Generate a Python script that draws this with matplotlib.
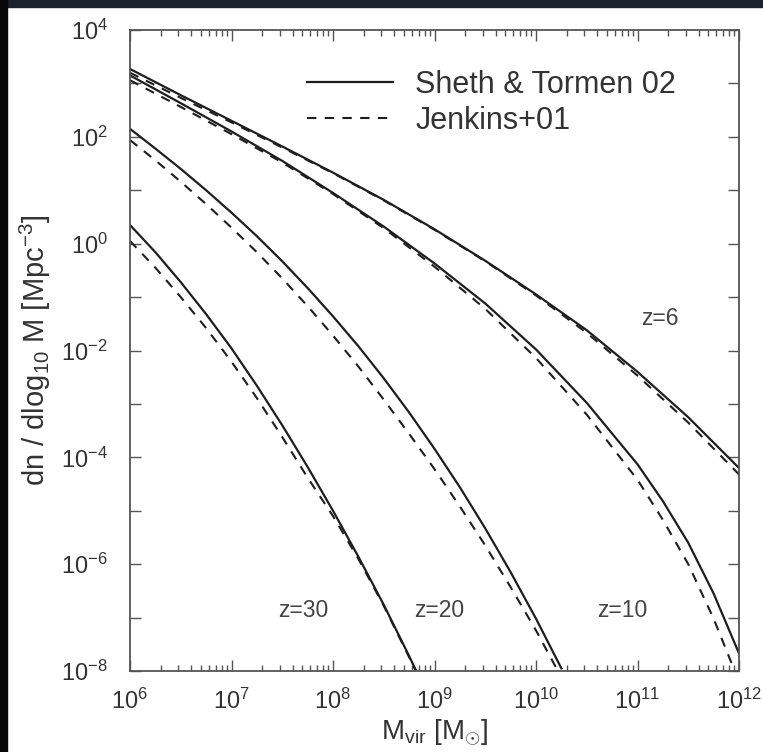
import matplotlib
matplotlib.use("Agg")
import matplotlib.pyplot as plt
from matplotlib.patches import Rectangle
from matplotlib.ticker import LogLocator, FixedLocator, FuncFormatter, NullFormatter, NullLocator
import numpy as np

plt.rcParams['font.family'] = ['Liberation Sans', 'DejaVu Sans']
plt.rcParams['mathtext.fontset'] = 'custom'
plt.rcParams['mathtext.rm'] = 'Liberation Sans'
plt.rcParams['mathtext.it'] = 'Liberation Sans:italic'
plt.rcParams['mathtext.bf'] = 'Liberation Sans:bold'

# log10 halo mass and log10 dn/dlog10M for each redshift
logm_z6 = [6.0, 6.5, 7.0, 7.5, 8.0, 8.5, 9.0, 9.5, 10.0, 10.5, 11.0, 11.5, 12.0]
st_z6 = [3.27, 2.78, 2.30, 1.82, 1.33, 0.82, 0.27, -0.32, -0.95, -1.62, -2.40, -3.25, -4.20]
jk_z6 = [3.20, 2.73, 2.27, 1.80, 1.32, 0.81, 0.26, -0.33, -0.97, -1.67, -2.47, -3.35, -4.32]

logm_z10 = [6.0, 6.5, 7.0, 7.5, 8.0, 8.5, 9.0, 9.5, 10.0, 10.5, 11.0, 11.25, 11.5, 11.75, 12.0]
st_z10 = [3.15, 2.63, 2.10, 1.55, 0.95, 0.32, -0.37, -1.12, -1.98, -2.98, -4.13, -4.82, -5.60, -6.55, -7.67]
jk_z10 = [3.06, 2.56, 2.05, 1.52, 0.93, 0.29, -0.43, -1.22, -2.14, -3.20, -4.42, -5.17, -6.00, -7.02, -8.20]

logm_z20 = [6.0, 6.25, 6.5, 6.75, 7.0, 7.25, 7.5, 7.75, 8.0, 8.25, 8.5, 8.75, 9.0, 9.25, 9.5, 9.75, 10.0, 10.25]
st_z20 = [2.15, 1.78, 1.40, 1.00, 0.58, 0.14, -0.33, -0.83, -1.36, -1.92, -2.52, -3.16, -3.84, -4.56, -5.33, -6.15, -7.02, -7.95]
jk_z20 = [1.94, 1.56, 1.16, 0.74, 0.30, -0.16, -0.65, -1.17, -1.72, -2.30, -2.92, -3.56, -4.22, -4.92, -5.65, -6.43, -7.24, -8.12]

logm_z30 = [6.0, 6.25, 6.5, 6.75, 7.0, 7.25, 7.5, 7.75, 8.0, 8.25, 8.5, 8.75, 9.0]
st_z30 = [0.35, -0.16, -0.72, -1.32, -1.96, -2.66, -3.40, -4.18, -5.00, -5.86, -6.76, -7.72, -8.72]
jk_z30 = [0.05, -0.45, -1.00, -1.58, -2.21, -2.89, -3.62, -4.38, -5.10, -5.90, -6.78, -7.74, -8.72]

series = [
    (logm_z6, st_z6, jk_z6),
    (logm_z10, st_z10, jk_z10),
    (logm_z20, st_z20, jk_z20),
    (logm_z30, st_z30, jk_z30),
]

z_labels = ['z=6', 'z=10', 'z=20', 'z=30']
z_label_pos = [(10**11.22, 10**-1.40), (10**10.85, 10**-6.86), (10**9.05, 10**-6.86), (10**7.71, 10**-6.86)]

x_decades = list(range(6, 13))
y_decades = list(range(-8, 5))

line_color = '#1e1e1e'
text_color = '#333333'

fig = plt.figure(figsize=(7.63, 7.52), dpi=100)
fig.patch.set_facecolor('white')
ax = fig.add_axes([130 / 763, 81 / 752, 609 / 763, 641 / 752])

for logm, st, jk in series:
    m = 10 ** np.array(logm)
    ax.plot(m, 10 ** np.array(st), color=line_color, lw=1.6)
    ax.plot(m, 10 ** np.array(jk), color=line_color, lw=1.5, dashes=(4.5, 4))

# legend handles
ax.plot([], [], color=line_color, lw=1.6, label='Sheth & Tormen 02')
ax.plot([], [], color=line_color, lw=1.5, dashes=(4.5, 4), label='Jenkins+01')

ax.set_xscale('log')
ax.set_yscale('log')
ax.set_xlim(1e6, 1e12)
ax.set_ylim(1e-8, 1e4)

for txt, (x, y) in zip(z_labels, z_label_pos):
    ax.text(x, y, txt, fontsize=16.5, color='#444444', ha='center', va='center')

leg = ax.legend(loc='upper left', bbox_to_anchor=((307 - 130) / 609, (671 - 70) / 641),
                frameon=False, fontsize=22, handlelength=2.8, handletextpad=0.75,
                labelspacing=0.2, borderpad=0, borderaxespad=0, labelcolor=text_color)

# axis ticks: every decade on both axes, labels on even decades only for y
ax.xaxis.set_major_locator(FixedLocator([10.0 ** e for e in x_decades]))
ax.xaxis.set_minor_locator(LogLocator(base=10, subs=np.arange(2, 10), numticks=20))
ax.xaxis.set_minor_formatter(NullFormatter())
ax.yaxis.set_major_locator(FixedLocator([10.0 ** e for e in y_decades]))
ax.yaxis.set_minor_locator(NullLocator())


def decade_label(e):
    return r'$10^{%d}$' % e


def even_decades(v, pos):
    e = int(round(np.log10(v)))
    return decade_label(e) if e % 2 == 0 else ''


ax.yaxis.set_major_formatter(FuncFormatter(even_decades))
ax.xaxis.set_major_formatter(FuncFormatter(lambda v, p: decade_label(int(round(np.log10(v))))))

ax.tick_params(which='both', direction='in', top=True, right=True, color='#555555',
               labelsize=17, labelcolor=text_color)
ax.tick_params(which='major', length=8, width=1.0)
ax.tick_params(which='minor', length=4, width=1.0)
ax.tick_params(axis='x', pad=13)
ax.tick_params(axis='y', pad=16)
for sp in ax.spines.values():
    sp.set_color('#555555')
    sp.set_linewidth(1.3)

ax.set_xlabel(r'M$_{\rm vir}$ [M$_{\odot}$]', fontsize=20, color=text_color, labelpad=2)
ax.set_ylabel(r'dn / dlog$_{10}$ M [Mpc$^{-3}$]', fontsize=21, color=text_color, labelpad=6)

# dark frame along the top and left edges
fig.patches.append(Rectangle((0, 1 - 7 / 752), 1, 7 / 752, transform=fig.transFigure,
                             color='#1b222c', zorder=10))
fig.patches.append(Rectangle((0, 0), 7 / 763, 1, transform=fig.transFigure,
                             color='#080808', zorder=10))

fig.savefig('out.png', dpi=100, facecolor=fig.get_facecolor())
